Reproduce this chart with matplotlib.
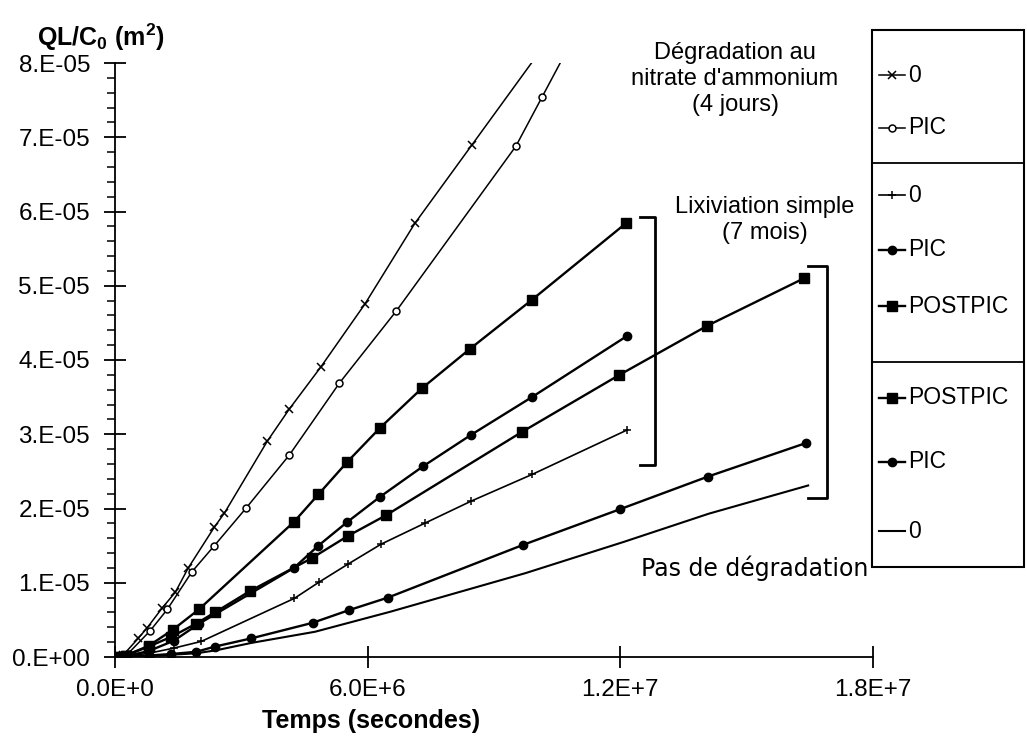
import matplotlib
matplotlib.use("Agg")
import matplotlib.pyplot as plt
from matplotlib.lines import Line2D
from matplotlib.patches import Rectangle
from matplotlib.ticker import FixedLocator, MultipleLocator

plt.rcParams["font.family"] = ["Liberation Sans", "DejaVu Sans"]
plt.rcParams["mathtext.fontset"] = "custom"
plt.rcParams["mathtext.rm"] = "Liberation Sans"
plt.rcParams["mathtext.bf"] = "Liberation Sans:bold"

# time in 1E+6 s, QL/C0 in 1E-05 m2

# nitrate d'ammonium (4 jours)
nit0_t = [0, 0.2, 0.55, 0.76, 1.12, 1.43, 1.74, 2.36, 2.60, 3.62, 4.14, 4.88, 5.93, 7.12, 8.48, 10.3]
nit0_q = [0, 0.03, 0.25, 0.39, 0.66, 0.87, 1.20, 1.75, 1.94, 2.91, 3.34, 3.90, 4.75, 5.84, 6.90, 8.32]
nitpic_t = [0, 0.3, 0.83, 1.24, 1.83, 2.36, 3.12, 4.14, 5.33, 6.68, 9.52, 10.14, 10.9]
nitpic_q = [0, 0.04, 0.35, 0.64, 1.15, 1.50, 2.01, 2.72, 3.69, 4.66, 6.88, 7.54, 8.35]

# lixiviation simple (7 mois)
lix0_t = [0, 0.25, 0.8, 1.4, 2.05, 4.26, 4.85, 5.53, 6.32, 7.35, 8.46, 9.91, 12.17]
lix0_q = [0, 0.01, 0.05, 0.12, 0.21, 0.79, 1.01, 1.25, 1.52, 1.80, 2.10, 2.46, 3.06]
lixpic_t = [0, 0.25, 0.8, 1.4, 2.0, 4.25, 4.83, 5.52, 6.30, 7.32, 8.45, 9.90, 12.15]
lixpic_q = [0, 0.01, 0.08, 0.22, 0.45, 1.20, 1.50, 1.82, 2.16, 2.57, 2.99, 3.50, 4.32]
lixpost_t = [0, 0.25, 0.8, 1.38, 1.99, 4.25, 4.83, 5.52, 6.30, 7.29, 8.43, 9.90, 12.13]
lixpost_q = [0, 0.02, 0.15, 0.37, 0.64, 1.82, 2.19, 2.63, 3.09, 3.62, 4.15, 4.81, 5.84]

# pas de degradation
pas0_t = [0, 0.25, 0.79, 1.33, 1.93, 2.40, 3.24, 4.75, 6.54, 9.75, 12.08, 14.10, 16.46]
pas0_q = [0, 0.0, 0.01, 0.03, 0.05, 0.09, 0.19, 0.34, 0.61, 1.13, 1.55, 1.93, 2.31]
paspic_t = [0, 0.25, 0.81, 1.33, 1.93, 2.37, 3.23, 4.69, 5.55, 6.48, 9.69, 11.99, 14.08, 16.40]
paspic_q = [0, 0.005, 0.02, 0.04, 0.07, 0.14, 0.25, 0.46, 0.63, 0.80, 1.51, 1.99, 2.43, 2.88]
paspost_t = [0, 0.25, 0.8, 1.33, 1.93, 2.37, 3.21, 4.67, 5.53, 6.44, 9.66, 11.98, 14.06, 16.36]
paspost_q = [0, 0.02, 0.14, 0.27, 0.45, 0.60, 0.89, 1.33, 1.63, 1.91, 3.03, 3.80, 4.46, 5.10]

x_ticks = [0, 6e6, 1.2e7, 1.8e7]
x_labels = ["0.0E+0", "6.0E+6", "1.2E+7", "1.8E+7"]
y_ticks = [i * 1e-5 for i in range(9)]
y_labels = ["0.E+00", "1.E-05", "2.E-05", "3.E-05", "4.E-05", "5.E-05", "6.E-05", "7.E-05", "8.E-05"]

# brackets (time 1E+6 s, QL/C0 1E-05)
br1 = ([12.47, 12.83, 12.83, 12.47], [5.93, 5.93, 2.59, 2.59])
br2 = ([16.46, 16.91, 16.91, 16.46], [5.27, 5.27, 2.14, 2.14])

# (label, t, q, style)
thin = dict(color="black", lw=1.1, mec="black")
thick = dict(color="black", lw=1.7, mec="black")
series = [
    ("0", nit0_t, nit0_q, dict(thin, marker="x", ms=6, mew=1.1)),
    ("PIC", nitpic_t, nitpic_q, dict(thin, marker="o", ms=5, mew=1.1, mfc="white")),
    ("0", lix0_t, lix0_q, dict(color="black", lw=1.2, marker="+", ms=6, mew=1.1)),
    ("PIC", lixpic_t, lixpic_q, dict(thick, marker="o", ms=6, mfc="black")),
    ("POSTPIC", lixpost_t, lixpost_q, dict(thick, marker="s", ms=7, mfc="black")),
    ("POSTPIC", paspost_t, paspost_q, dict(thick, marker="s", ms=7, mfc="black")),
    ("PIC", paspic_t, paspic_q, dict(thick, marker="o", ms=6, mfc="black")),
    ("0", pas0_t, pas0_q, dict(color="black", lw=1.5)),
]

W, H = 1027, 746
fig = plt.figure(figsize=(W / 100, H / 100), dpi=100)


def fx(x):
    return x / W


def fy(y):
    return 1 - y / H


ax = fig.add_axes([fx(115), fy(657), fx(873) - fx(115), fy(63) - fy(657)])

for label, t, q, st in series:
    ax.plot([v * 1e6 for v in t], [v * 1e-5 for v in q], **st)

for bx, by in (br1, br2):
    ax.plot([v * 1e6 for v in bx], [v * 1e-5 for v in by], color="black", lw=2.0)

ax.set_xlim(0, 1.8e7)
ax.set_ylim(0, 8e-5)
ax.xaxis.set_major_locator(FixedLocator(x_ticks))
ax.set_xticklabels(x_labels)
ax.yaxis.set_major_locator(FixedLocator(y_ticks))
ax.set_yticklabels(y_labels)
ax.yaxis.set_minor_locator(MultipleLocator(2e-6))

for s in ("top", "right"):
    ax.spines[s].set_visible(False)
for s in ("left", "bottom"):
    ax.spines[s].set_linewidth(1.3)

ax.tick_params(which="major", direction="inout", length=16, width=1.3, labelsize=17.5)
ax.tick_params(axis="y", which="major", pad=10)
ax.tick_params(axis="x", which="major", pad=8)
ax.tick_params(axis="y", which="minor", direction="out", length=6, width=1.1)

fig.text(fx(37), fy(37), r"QL/C$_\mathbf{0}$ (m$^\mathbf{2}$)", fontsize=18, fontweight="bold",
         va="center", ha="left")
fig.text(fx(371), fy(721), "Temps (secondes)", fontsize=18, fontweight="bold", va="center", ha="center")

fig.text(fx(735), fy(79), "Dégradation au\nnitrate d'ammonium\n(4 jours)", fontsize=17,
         ha="center", va="center", linespacing=1.25)
fig.text(fx(765), fy(220), "Lixiviation simple\n(7 mois)", fontsize=17,
         ha="center", va="center", linespacing=1.25)
fig.text(fx(868), fy(568), "Pas de dégradation", fontsize=17, ha="right", va="center",
         family=["DejaVu Sans"])

# legend box with three groups
fig.add_artist(Rectangle((fx(872), fy(567)), fx(1024) - fx(872), fy(30) - fy(567),
                         transform=fig.transFigure, fill=False, lw=1.5, ec="black"))
for yy in (163, 362):
    fig.add_artist(Line2D([fx(872), fx(1024)], [fy(yy), fy(yy)], transform=fig.transFigure,
                          color="black", lw=1.3))

leg_y = [75, 128, 195, 250, 306, 398, 462, 531]
for (label, t, q, st), yy in zip(series, leg_y):
    fig.add_artist(Line2D([fx(879), fx(905)], [fy(yy), fy(yy)], transform=fig.transFigure,
                          color="black", lw=st["lw"]))
    if "marker" in st:
        mst = {k: v for k, v in st.items() if k not in ("lw", "color")}
        fig.add_artist(Line2D([fx(892)], [fy(yy)], transform=fig.transFigure, ls="none", color="black", **mst))
    fig.text(fx(908), fy(yy), label, fontsize=16.5, ha="left", va="center")

fig.savefig("out.png", dpi=100)
